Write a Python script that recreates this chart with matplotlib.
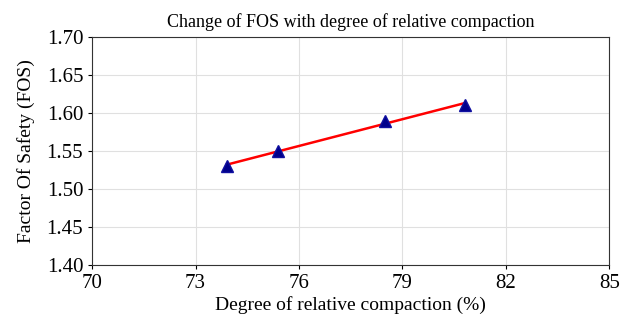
import numpy as np
import matplotlib
matplotlib.use('Agg')
import matplotlib.pyplot as plt

# Datos
compaction = [73.9, 75.4, 78.5, 80.8]
fos = [1.53, 1.55, 1.59, 1.61]
x_ticks = [70, 73, 76, 79, 82, 85]
y_ticks = [1.40, 1.45, 1.50, 1.55, 1.60, 1.65, 1.70]

plt.rcParams['font.family'] = ['Liberation Serif', 'DejaVu Serif']

fig, ax = plt.subplots(figsize=(6.23, 3.19), dpi=100)

# Ajuste lineal
coef = np.polyfit(compaction, fos, 1)
xs = np.array([min(compaction), max(compaction)])
ax.plot(xs, np.polyval(coef, xs), color='red', linewidth=1.8, zorder=2)
ax.plot(compaction, fos, linestyle='none', marker='^', markersize=8,
        color='#00008B', markeredgecolor='#1010a0', zorder=3)

ax.set_xlim(70, 85)
ax.set_ylim(1.40, 1.70)
ax.set_xticks(x_ticks)
ax.set_yticks(y_ticks)
ax.set_yticklabels([f'{v:.2f}' for v in y_ticks])
ax.tick_params(labelsize=15, length=3)
ax.tick_params(axis='x', pad=4)
ax.grid(True, color='#e0e0e0', linewidth=0.8)

ax.set_title('Change of FOS with degree of relative compaction', fontsize=13, pad=7)
ax.set_xlabel('Degree of relative compaction (%)', fontsize=14, labelpad=2)
ax.set_ylabel('Factor Of Safety (FOS)', fontsize=14, labelpad=8)

for s in ax.spines.values():
    s.set_color('#333333')

plt.subplots_adjust(left=0.148, right=0.978, top=0.884, bottom=0.17)
plt.savefig('out.png', dpi=100)
